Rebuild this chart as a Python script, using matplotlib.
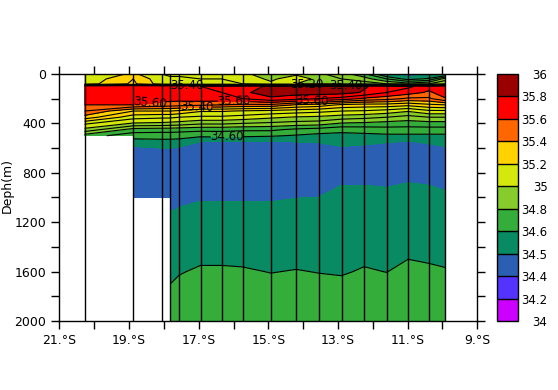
import numpy as np
import matplotlib
matplotlib.use('Agg')
import matplotlib.pyplot as plt
from matplotlib.colors import ListedColormap, BoundaryNorm
from matplotlib.cm import ScalarMappable
from matplotlib.ticker import MultipleLocator, FixedLocator, FuncFormatter

nan = np.nan

###===== DATA =====####

# station latitudes (deg, negative = south)
station_lat = [-20.28, -18.88, -18.07, -17.82, -17.56, -16.95, -16.34, -15.74, -14.93,
               -14.20, -13.56, -12.90, -12.25, -11.60, -10.99, -10.39, -9.92]

depth = [0, 40, 80, 100, 150, 200, 250, 300, 350, 400, 450, 500, 550, 600,
         800, 1000, 1200, 1400, 1600, 1800, 2000]

# salinity, one row per depth, one column per station
salinity = [
    [35.10, 35.22, 35.10, 35.08, 35.08, 35.06, 35.05, 35.02, 34.95, 34.98, 34.92, 34.85, 34.72, 34.48, 34.45, 34.45, 34.46],
    [35.12, 35.30, 35.13, 35.12, 35.12, 35.10, 35.10, 35.06, 34.98, 35.06, 34.97, 34.90, 34.85, 34.70, 34.56, 34.62, 34.85],
    [35.15, 35.32, 35.15, 35.14, 35.14, 35.12, 35.12, 35.10, 35.02, 35.00, 35.00, 34.95, 34.95, 34.90, 34.85, 34.90, 35.00],
    [35.70, 35.70, 35.70, 35.70, 35.70, 35.70, 35.72, 35.75, 35.82, 35.85, 35.85, 35.83, 35.81, 35.76, 35.72, 35.65, 35.70],
    [35.68, 35.68, 35.68, 35.68, 35.68, 35.69, 35.70, 35.78, 35.85, 35.84, 35.85, 35.84, 35.79, 35.70, 35.65, 35.58, 35.66],
    [35.65, 35.65, 35.65, 35.64, 35.64, 35.66, 35.66, 35.70, 35.78, 35.74, 35.70, 35.66, 35.58, 35.54, 35.48, 35.48, 35.59],
    [35.60, 35.60, 35.56, 35.55, 35.54, 35.52, 35.50, 35.48, 35.48, 35.39, 35.36, 35.28, 35.26, 35.26, 35.23, 35.28, 35.30],
    [35.50, 35.30, 35.30, 35.30, 35.28, 35.21, 35.21, 35.19, 35.17, 35.15, 35.13, 35.10, 35.09, 35.06, 35.01, 35.08, 35.08],
    [35.36, 35.14, 35.12, 35.12, 35.10, 35.08, 35.08, 35.06, 35.02, 34.99, 34.98, 34.95, 34.93, 34.90, 34.86, 34.90, 34.90],
    [35.12, 34.99, 34.98, 34.97, 34.96, 34.92, 34.92, 34.90, 34.88, 34.86, 34.85, 34.79, 34.78, 34.76, 34.75, 34.76, 34.76],
    [34.97, 34.76, 34.75, 34.75, 34.74, 34.73, 34.73, 34.72, 34.72, 34.68, 34.66, 34.63, 34.64, 34.66, 34.66, 34.66, 34.66],
    [34.75, 34.64, 34.64, 34.64, 34.64, 34.62, 34.63, 34.62, 34.61, 34.59, 34.57, 34.57, 34.575, 34.58, 34.58, 34.58, 34.58],
    [nan, 34.56, 34.57, 34.57, 34.56, 34.498, 34.495, 34.495, 34.49, 34.502, 34.505, 34.53, 34.52, 34.505, 34.495, 34.51, 34.53],
    [nan, 34.48, 34.502, 34.502, 34.49, 34.47, 34.46, 34.46, 34.46, 34.46, 34.47, 34.49, 34.48, 34.47, 34.46, 34.48, 34.49],
    [nan, 34.44, 34.44, 34.44, 34.44, 34.44, 34.44, 34.44, 34.44, 34.44, 34.44, 34.45, 34.45, 34.45, 34.46, 34.45, 34.45],
    [nan, 34.46, 34.46, 34.47, 34.48, 34.495, 34.495, 34.495, 34.495, 34.499, 34.501, 34.55, 34.55, 34.535, 34.56, 34.55, 34.52],
    [nan, nan, nan, 34.52, 34.53, 34.53, 34.53, 34.525, 34.525, 34.53, 34.53, 34.565, 34.565, 34.56, 34.575, 34.565, 34.55],
    [nan, nan, nan, 34.55, 34.57, 34.57, 34.57, 34.57, 34.565, 34.57, 34.565, 34.58, 34.58, 34.58, 34.585, 34.58, 34.575],
    [nan, nan, nan, 34.58, 34.595, 34.61, 34.61, 34.607, 34.598, 34.603, 34.598, 34.595, 34.605, 34.599, 34.615, 34.61, 34.605],
    [nan, nan, nan, 34.62, 34.63, 34.64, 34.64, 34.64, 34.63, 34.635, 34.63, 34.625, 34.635, 34.63, 34.64, 34.64, 34.635],
    [nan, nan, nan, 34.66, 34.66, 34.66, 34.67, 34.67, 34.67, 34.67, 34.67, 34.66, 34.67, 34.67, 34.67, 34.67, 34.67],
]

fill_levels = [34, 34.2, 34.4, 34.5, 34.6, 34.8, 35, 35.2, 35.4, 35.6, 35.8, 36]
fill_colors = ['#cc00ff', '#5533ff', '#2b5fb3', '#088a62', '#35ad3a', '#86cc2a',
               '#d4e80e', '#ffd200', '#ff6600', '#ff0000', '#9a0000']
cbar_labels = ['34', '34.2', '34.4', '34.5', '34.6', '34.8', '35', '35.2', '35.4', '35.6', '35.8', '36']
line_levels = [34.6, 34.7, 34.8, 34.9, 35.0, 35.1, 35.2, 35.3, 35.4, 35.5, 35.6, 35.7, 35.8, 35.9]

# contour labels: level -> (lat, depth) spots
label_spots = {
    34.6: [(-16.19, 505)],
    35.2: [(-13.90, 70)],
    35.4: [(-17.34, 85), (-17.05, 280), (-12.77, 88)],
    35.6: [(-18.40, 240), (-15.99, 225), (-13.74, 220)],
}


###===== PLOT =====####
plt.rcParams['font.family'] = 'DejaVu Sans'
plt.rcParams['font.size'] = 9

fig = plt.figure(figsize=(5.58, 3.90), dpi=100)
ax = fig.add_axes([0.1066, 0.1769, 0.7488, 0.6334])
cax = fig.add_axes([0.8912, 0.1769, 0.0376, 0.6334])

Z = np.ma.masked_invalid(np.array(salinity))
cmap = ListedColormap(fill_colors)
norm = BoundaryNorm(fill_levels, cmap.N)

ax.contourf(station_lat, depth, Z, levels=fill_levels, colors=fill_colors,
            corner_mask=False)

# plain contour lines, then the labelled ones one level at a time
plain = [lv for lv in line_levels if lv not in label_spots]
ax.contour(station_lat, depth, Z, levels=plain, colors='k', linewidths=0.8,
           corner_mask=False)
for lev, spots in label_spots.items():
    cs = ax.contour(station_lat, depth, Z, levels=[lev], colors='k', linewidths=0.8,
                    corner_mask=False)
    ax.clabel(cs, manual=spots, fmt='%.2f', inline=True, fontsize=8.5, inline_spacing=2)

ax.vlines(station_lat, 0, 2000, colors='k', linewidth=1.0)

ax.set_xlim(-21, -9)
ax.set_ylim(2000, 0)
ax.xaxis.set_major_locator(FixedLocator([-21, -19, -17, -15, -13, -11, -9]))
ax.xaxis.set_minor_locator(MultipleLocator(1))
ax.xaxis.set_major_formatter(FuncFormatter(lambda v, p: '%d.\u00b0S' % abs(round(v))))
ax.yaxis.set_major_locator(MultipleLocator(400))
ax.yaxis.set_minor_locator(MultipleLocator(200))
ax.tick_params(which='both', direction='out', top=True, right=True,
               length=6, width=1, labelsize=9)
ax.set_ylabel('Deph(m)', fontsize=9)
ax.yaxis.set_label_coords(-0.11, 0.55)
for sp in ax.spines.values():
    sp.set_linewidth(1.0)

cb = fig.colorbar(ScalarMappable(norm=norm, cmap=cmap), cax=cax,
                  ticks=fill_levels, spacing='uniform', drawedges=True)
cb.outline.set_linewidth(1.0)
cb.dividers.set_linewidth(1.0)
cb.set_ticklabels(cbar_labels)
cax.tick_params(length=0, pad=21, labelsize=8.5)
for t in cax.get_yticklabels():
    t.set_horizontalalignment('right')

fig.savefig('out.png', dpi=100, facecolor='white')
